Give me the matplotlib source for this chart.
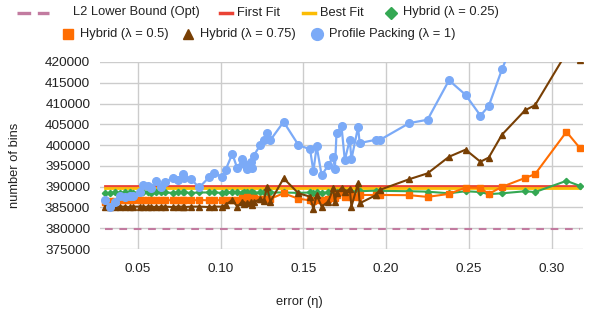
import matplotlib
matplotlib.use("Agg")
import matplotlib.pyplot as plt
from matplotlib.lines import Line2D
from matplotlib.ticker import FuncFormatter, MultipleLocator

plt.rcParams["font.family"] = ["Liberation Sans", "DejaVu Sans"]

# ─── Data ─────────────────────────────────────────────────────────────────────
eta = [
    0.030, 0.033, 0.036, 0.039, 0.042, 0.045, 0.047, 0.051, 0.053, 0.056,
    0.058, 0.061, 0.064, 0.066, 0.071, 0.074, 0.077, 0.078, 0.082, 0.087,
    0.093, 0.096, 0.101, 0.103, 0.107, 0.110, 0.113, 0.114, 0.116, 0.118,
    0.119, 0.120, 0.124, 0.126, 0.128, 0.130, 0.138, 0.147, 0.154, 0.156,
    0.158, 0.161, 0.165, 0.168, 0.169, 0.170, 0.173, 0.175, 0.178, 0.179,
    0.183, 0.184, 0.194, 0.196, 0.214, 0.225, 0.238, 0.248, 0.257, 0.262,
    0.270, 0.284, 0.290, 0.309, 0.317,
]

l2_bound = [379800] * len(eta)
first_fit = [390200] * len(eta)
best_fit = [389600] * len(eta)

hybrid_025 = [
    388400, 388500, 388600, 388500, 388600, 388600, 388500, 388600, 388600, 388600,
    388500, 388600, 388600, 388600, 388500, 388600, 388600, 388600, 388500, 388600,
    388600, 388600, 388500, 388600, 388600, 388600, 388500, 388600, 388600, 388600,
    388600, 388500, 388600, 388600, 388600, 388600, 388600, 388500, 388600, 388500,
    388600, 388500, 388600, 388600, 388500, 388700, 388800, 388700, 388900, 388800,
    389000, 388900, 389050, 389000, 388900, 388800, 388400, 388900, 388700, 388200,
    388400, 388900, 388700, 391400, 390200,
]

hybrid_05 = [
    386400, 386500, 386600, 386700, 386700, 386800, 386700, 386800, 386700, 386800,
    386700, 386800, 386700, 386800, 386700, 386800, 386700, 386800, 386700, 386800,
    386700, 386800, 386700, 386800, 386800, 386900, 387300, 387100, 387600, 387200,
    387000, 387300, 387000, 387100, 387000, 387100, 388400, 387100, 386700, 386600,
    386900, 386800, 387100, 387600, 387300, 388000, 388800, 387500, 387900, 387400,
    387600, 388000, 388000, 388000, 387950, 387540, 388260, 389780, 389700, 388260,
    389950, 392100, 393000, 403200, 399350,
]

hybrid_075 = [
    385100, 385200, 385100, 385200, 385200, 385100, 385200, 385200, 385100, 385200,
    385200, 385100, 385200, 385200, 385100, 385200, 385200, 385100, 385200, 385200,
    385100, 385200, 385200, 385600, 386800, 385200, 386400, 385800, 386000, 386200,
    385600, 386300, 387000, 386600, 389900, 386400, 392000, 388400, 387600, 384600,
    388000, 385200, 386400, 389600, 386300, 388400, 389700, 388600, 389500, 385200,
    390800, 386000, 388000, 389200, 391800, 393200, 397200, 398900, 396000, 397000,
    402500, 408400, 409600, 422200, 420500,
]

profile_packing = [
    386800, 385200, 386400, 387800, 387600, 387800, 387800, 388800, 390400, 390200,
    389600, 391400, 389900, 391200, 392000, 391500, 393000, 392200, 391800, 389800,
    392300, 393300, 392300, 394100, 397900, 394400, 396600, 395400, 394300, 396000,
    394500, 397500, 400100, 401200, 402800, 401200, 405600, 400000, 399000, 393700,
    399700, 392700, 395200, 397200, 394300, 403000, 404500, 396400, 401300, 396600,
    404300, 400500, 401300, 401200, 405300, 406100, 415600, 412100, 407100, 409400,
    418200, 432000, 436000, 445000, 448000,
]

y_ticks = list(range(375000, 420001, 5000))
legend_row1 = ["L2 Lower Bound (Opt)", "First Fit", "Best Fit", "Hybrid (λ = 0.25)"]
legend_row2 = ["Hybrid (λ = 0.5)", "Hybrid (λ = 0.75)", "Profile Packing (λ = 1)"]

# ─── Style ────────────────────────────────────────────────────────────────────
W, H = 596, 316
C_L2 = "#c27ba0"
C_FF = "#ea4335"
C_BF = "#fbbc04"
C_H25 = "#34a853"
C_H50 = "#ff6d01"
C_H75 = "#783f04"
C_PP = "#7baaf7"
GRID = "#cccccc"
TXT = "#222222"
FS = 9.3


def fx(px):
    return px / W


def fy(py):
    return 1 - py / H


fig = plt.figure(figsize=(W / 100, H / 100), dpi=100)
ax = fig.add_axes([fx(100), fy(249), 483 / W, 187 / H])

ax.plot(eta, l2_bound, color=C_L2, lw=1.5, dashes=(3.7, 3.2))
ax.plot(eta, first_fit, color=C_FF, lw=2)
ax.plot(eta, best_fit, color=C_BF, lw=2)
ax.plot(eta, hybrid_025, color=C_H25, lw=1.5, marker="D", ms=3.2)
ax.plot(eta, hybrid_05, color=C_H50, lw=1.5, marker="s", ms=3.8)
ax.plot(eta, hybrid_075, color=C_H75, lw=1.5, marker="^", ms=3.8)
ax.plot(eta, profile_packing, color=C_PP, lw=1.6, marker="o", ms=5.5)

ax.set_xlim(0.027, 0.319)
ax.set_ylim(375000, 420000)
ax.set_yticks(y_ticks)
ax.xaxis.set_major_locator(MultipleLocator(0.05))
ax.xaxis.set_major_formatter(FuncFormatter(lambda v, _: f"{v:.2f}"))
ax.yaxis.set_major_formatter(FuncFormatter(lambda v, _: f"{int(v)}"))
ax.grid(True, color=GRID, lw=1)
ax.set_axisbelow(True)
for s in ax.spines.values():
    s.set_visible(False)
ax.tick_params(length=0, labelsize=FS + 0.4, colors=TXT)
ax.tick_params(axis="y", pad=7)
ax.tick_params(axis="x", pad=10)

fig.text(fx(15), fy(165), "number of bins", rotation=90,
         ha="center", va="center", fontsize=FS, color=TXT)
fig.text(fx(299), fy(302), "error (η)", ha="center", va="center",
         fontsize=FS, color=TXT)

# ─── Legend, placed by hand as two centred rows ───────────────────────────────
r1, r2 = 12.5, 33.5
fig.add_artist(Line2D([fx(17), fx(49)], [fy(r1), fy(r1)], transform=fig.transFigure,
                      color=C_L2, lw=2.4, dashes=(4.1, 2.0)))
fig.add_artist(Line2D([fx(220), fx(232)], [fy(r1), fy(r1)], transform=fig.transFigure,
                      color=C_FF, lw=2.5))
fig.add_artist(Line2D([fx(303), fx(315)], [fy(r1), fy(r1)], transform=fig.transFigure,
                      color=C_BF, lw=2.5))
fig.add_artist(Line2D([fx(391)], [fy(r1)], transform=fig.transFigure,
                      color=C_H25, ls="none", marker="D", ms=6))
for x, label in zip([73, 237, 320, 403], legend_row1):
    fig.text(fx(x), fy(r1), label, ha="left", va="center", fontsize=FS, color=TXT)

fig.add_artist(Line2D([fx(68)], [fy(r2)], transform=fig.transFigure,
                      color=C_H50, ls="none", marker="s", ms=6.5))
fig.add_artist(Line2D([fx(188)], [fy(r2)], transform=fig.transFigure,
                      color=C_H75, ls="none", marker="^", ms=7))
fig.add_artist(Line2D([fx(317)], [fy(r2)], transform=fig.transFigure,
                      color=C_PP, ls="none", marker="o", ms=8.5))
for x, label in zip([80, 200, 329], legend_row2):
    fig.text(fx(x), fy(r2), label, ha="left", va="center", fontsize=FS, color=TXT)

fig.savefig("out.png", dpi=100, facecolor="white")
